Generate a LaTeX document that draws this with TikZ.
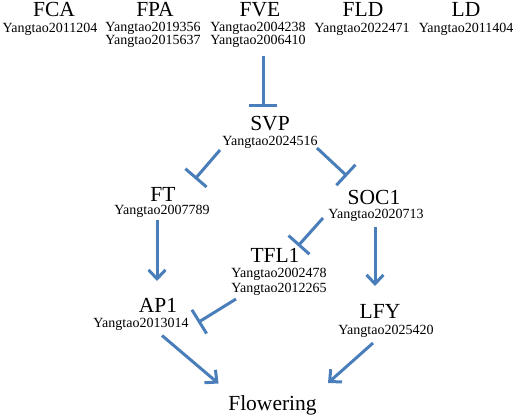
\documentclass[tikz,border=0pt]{standalone}
\usepackage{fontspec}
\setmainfont{Liberation Serif}
\usetikzlibrary{arrows.meta,calc}
\definecolor{linkblue}{RGB}{74,126,187}
\begin{document}
\begin{tikzpicture}[x=1pt,y=-1pt,
  gene/.style={anchor=base,inner sep=0pt,font=\fontsize{21.5}{24}\selectfont},
  gid/.style={anchor=base,inner sep=0pt,font=\fontsize{14}{16}\selectfont},
  act/.style={draw=linkblue,line width=3pt,-{Straight Barb[length=9pt,width=17pt]}},
  inh/.style={draw=linkblue,line width=3pt,-{Bar[width=28pt]}}]
\useasboundingbox (0,0) rectangle (520,416);
% top row
\node[gene] (fca) at (54,16) {FCA};
\node[gid] (fcaid) at (50,32) {Yangtao2011204};
\node[gene] (fpa) at (155,16) {FPA};
\node[gid] (fpaid1) at (153,31.5) {Yangtao2019356};
\node[gid] (fpaid2) at (153,44.5) {Yangtao2015637};
\node[gene] (fve) at (260,16) {FVE};
\node[gid] (fveid1) at (258,31.5) {Yangtao2004238};
\node[gid] (fveid2) at (258,44.5) {Yangtao2006410};
\node[gene] (fld) at (363,16) {FLD};
\node[gid] (fldid) at (362,32) {Yangtao2022471};
\node[gene] (ld) at (466,16) {LD};
\node[gid] (ldid) at (466,32) {Yangtao2011404};
% middle
\node[gene] (svp) at (270,130.5) {SVP};
\node[gid] (svpid) at (270,145.5) {Yangtao2024516};
\node[gene] (ft) at (163,201) {FT};
\node[gid] (ftid) at (162,214.5) {Yangtao2007789};
\node[gene] (soc1) at (374,204) {SOC1};
\node[gid] (soc1id) at (376,218.5) {Yangtao2020713};
\node[gene] (tfl1) at (275,262.5) {TFL1};
\node[gid] (tfl1id1) at (279,277.5) {Yangtao2002478};
\node[gid] (tfl1id2) at (279,292) {Yangtao2012265};
\node[gene] (ap1) at (158,312.5) {AP1};
\node[gid] (ap1id) at (141,327) {Yangtao2013014};
\node[gene] (lfy) at (380,318.5) {LFY};
\node[gid] (lfyid) at (386,334) {Yangtao2025420};
\node[gene] (flow) at (272.5,410) {Flowering};
% connectors
\draw[inh] ($(fveid2.base)+(5,11.5)$) -- ($(svp.base)+(-7,-23.5)$);
\draw[inh] ($(svpid.base)+(-50,4.5)$) -- ($(ft.base)+(32,-22)$);
\draw[inh] ($(svpid.base)+(47,2.5)$) -- ($(soc1.base)+(-27,-28)$);
\draw[inh] ($(soc1id.base)+(-53,-0.5)$) -- ($(tfl1.base)+(23,-16.5)$);
\draw[act] ($(ftid.base)+(-5,5.5)$) -- ($(ap1.base)+(-1,-31.5)$);
\draw[act] ($(soc1id.base)+(-1,8.5)$) -- ($(lfy.base)+(-5,-32.5)$);
\draw[inh] ($(tfl1id2.base)+(-43,7)$) -- ($(ap1.base)+(40,10)$);
\draw[act] ($(ap1id.base)+(21,8.5)$) -- ($(flow.base)+(-54,-26.5)$);
\draw[act] ($(lfyid.base)+(-13,9)$) -- ($(flow.base)+(55.5,-27)$);
\end{tikzpicture}
\end{document}
